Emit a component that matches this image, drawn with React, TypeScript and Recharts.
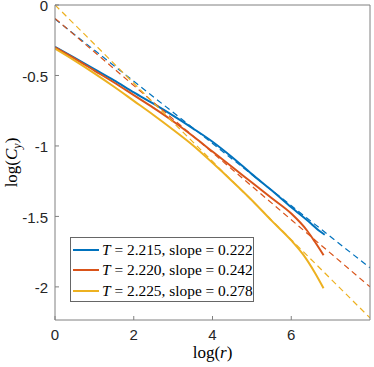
import React from 'react';
import { LineChart, Line, XAxis, YAxis, Legend, Label } from 'recharts';

// Solid curves: log(r) vs log(C_y)
const rBlue = [0, 0.5, 1, 1.5, 2, 2.5, 3, 3.5, 4, 4.5, 5, 5.5, 6, 6.5, 6.7, 6.85];
const cBlue = [-0.297, -0.375, -0.455, -0.535, -0.62, -0.7, -0.785, -0.875, -0.97, -1.08, -1.2, -1.315, -1.435, -1.55, -1.6, -1.63];

const rRed = [0, 0.5, 1, 1.5, 2, 2.5, 3, 3.5, 4, 4.5, 5, 5.5, 6, 6.4, 6.6, 6.82];
const cRed = [-0.3, -0.38, -0.465, -0.55, -0.64, -0.73, -0.825, -0.93, -1.04, -1.15, -1.26, -1.37, -1.48, -1.6, -1.68, -1.775];

const rYellow = [0, 0.5, 1, 1.5, 2, 2.5, 3, 3.5, 4, 4.5, 5, 5.5, 6, 6.3, 6.6, 6.82];
const cYellow = [-0.31, -0.395, -0.485, -0.58, -0.68, -0.78, -0.885, -0.995, -1.12, -1.25, -1.385, -1.53, -1.67, -1.77, -1.9, -2.01];

// Dashed power-law fits
const fitR = [0, 8];
const fitBlue = [-0.1, -1.865];
const fitRed = [-0.095, -2.0];
const fitYellow = [0, -2.22];

// Legend labels
const temps = ['2.215', '2.220', '2.225'];
const slopes = ['0.222', '0.242', '0.278'];
const colors = ['#0072BD', '#D95319', '#EDB120'];

// Axis ticks
const xTicks = [0, 2, 4, 6];
const yTicks = [0, -0.5, -1, -1.5, -2];
const xDomain = [0, 8];
const yDomain = [-2.235, 0];

const toData = (rs: number[], cs: number[]) => rs.map((r, i) => ({ r, c: cs[i] }));

const solidSeries = [toData(rBlue, cBlue), toData(rRed, cRed), toData(rYellow, cYellow)];
const fitSeries = [toData(fitR, fitBlue), toData(fitR, fitRed), toData(fitR, fitYellow)];

const axisColor = '#808080';
const sans = "'Liberation Sans', Arial, sans-serif";
const tickFont = { fill: '#262626', fontSize: 15, fontFamily: sans };
const serif = "'Liberation Serif', 'Times New Roman', serif";

const YTick = (props: any) => (
  <text
    x={props.x}
    y={props.y + 0.8}
    dy="0.355em"
    textAnchor="end"
    fill="#262626"
    fontSize={15}
    fontFamily={sans}
  >
    {props.payload.value}
  </text>
);

const renderLegend = (props: any) => {
  const payload = (props.payload || []).filter(
    (e: any) => e.type !== 'none' && !String(e.value).startsWith('fit')
  );
  return (
    <div
      style={{
        border: '1px solid #666',
        background: '#fff',
        boxSizing: 'border-box',
        width: 184,
        height: 65,
        paddingTop: 2,
        paddingLeft: 2,
        fontFamily: serif,
        fontSize: 15.4,
        color: '#000',
        overflow: 'hidden',
      }}
    >
      {payload.map((e: any, i: number) => (
        <div key={i} style={{ display: 'flex', alignItems: 'center', height: 20.3, whiteSpace: 'pre' }}>
          <span style={{ display: 'inline-block', width: 26, height: 2, background: e.color, marginRight: 3 }} />
          <span style={{ fontFamily: serif }}>
            <i>T</i>
            {` = ${temps[i]}, slope = ${slopes[i]}`}
          </span>
        </div>
      ))}
    </div>
  );
};

const YLabelContent = (props: any) => {
  const vb = props.viewBox || { x: 0, y: 0, width: 0, height: 0 };
  const cx = vb.x + 17;
  const cy = vb.y + vb.height / 2;
  return (
    <text x={cx} y={cy} transform={`rotate(-90 ${cx} ${cy})`} textAnchor="middle" fontFamily={serif} fontSize={17} fill="#000">
      log(
      <tspan fontStyle="italic">C</tspan>
      <tspan fontStyle="italic" fontSize={12} dy={4}>y</tspan>
      <tspan dy={-4}>)</tspan>
    </text>
  );
};

const XLabelContent = (props: any) => {
  const vb = props.viewBox || { x: 0, y: 0, width: 0, height: 0 };
  const cx = vb.x + vb.width / 2;
  const cy = vb.y + 37.5;
  return (
    <text x={cx} y={cy} textAnchor="middle" fontFamily={serif} fontSize={17} fill="#000">
      log(
      <tspan fontStyle="italic">r</tspan>)
    </text>
  );
};

export default function App() {
  return (
    <div style={{ position: 'absolute', left: 0, top: 0, background: '#fff' }}>
      <LineChart width={374} height={367} margin={{ top: 0, right: 0, bottom: 0, left: 0 }}>
        <XAxis
          xAxisId="main"
          type="number"
          dataKey="r"
          domain={xDomain}
          ticks={xTicks}
          interval={0}
          allowDataOverflow
          height={47}
          tickSize={-4}
          tickMargin={13}
          axisLine={{ stroke: axisColor }}
          tickLine={{ stroke: axisColor }}
          tick={tickFont}
        >
          <Label content={<XLabelContent />} />
        </XAxis>
        <XAxis
          xAxisId="top"
          orientation="top"
          type="number"
          domain={xDomain}
          ticks={[2, 4, 6]}
          interval={0}
          allowDataOverflow
          height={5}
          tickSize={-4}
          tick={false}
          axisLine={{ stroke: axisColor }}
          tickLine={{ stroke: axisColor }}
        />
        <YAxis
          yAxisId="main"
          type="number"
          domain={yDomain}
          ticks={yTicks}
          interval={0}
          allowDataOverflow
          width={55}
          tickSize={-4}
          tickMargin={11}
          axisLine={{ stroke: axisColor }}
          tickLine={{ stroke: axisColor }}
          tick={<YTick />}
        >
          <Label content={<YLabelContent />} />
        </YAxis>
        <YAxis
          yAxisId="right"
          orientation="right"
          type="number"
          domain={yDomain}
          ticks={[-0.5, -1, -1.5, -2]}
          interval={0}
          allowDataOverflow
          width={4}
          tickSize={-4}
          tick={false}
          axisLine={{ stroke: axisColor }}
          tickLine={{ stroke: axisColor }}
        />
        {solidSeries.map((d, i) => (
          <Line
            key={`s${i}`}
            xAxisId="main"
            yAxisId="main"
            data={d}
            dataKey="c"
            name={`T = ${temps[i]}, slope = ${slopes[i]}`}
            stroke={colors[i]}
            strokeWidth={2}
            dot={false}
            activeDot={false}
            type="monotone"
            isAnimationActive={false}
          />
        ))}
        {fitSeries.map((d, i) => (
          <Line
            key={`f${i}`}
            xAxisId="main"
            yAxisId="main"
            data={d}
            dataKey="c"
            name={`fit${i}`}
            legendType="none"
            stroke={colors[i]}
            strokeWidth={1.2}
            strokeDasharray="6 4"
            dot={false}
            activeDot={false}
            type="linear"
            isAnimationActive={false}
          />
        ))}
        <Legend
          layout="vertical"
          align="center"
          verticalAlign="middle"
          content={renderLegend}
          wrapperStyle={{ left: 70, top: 237, width: 184, height: 65 }}
        />
      </LineChart>
    </div>
  );
}
